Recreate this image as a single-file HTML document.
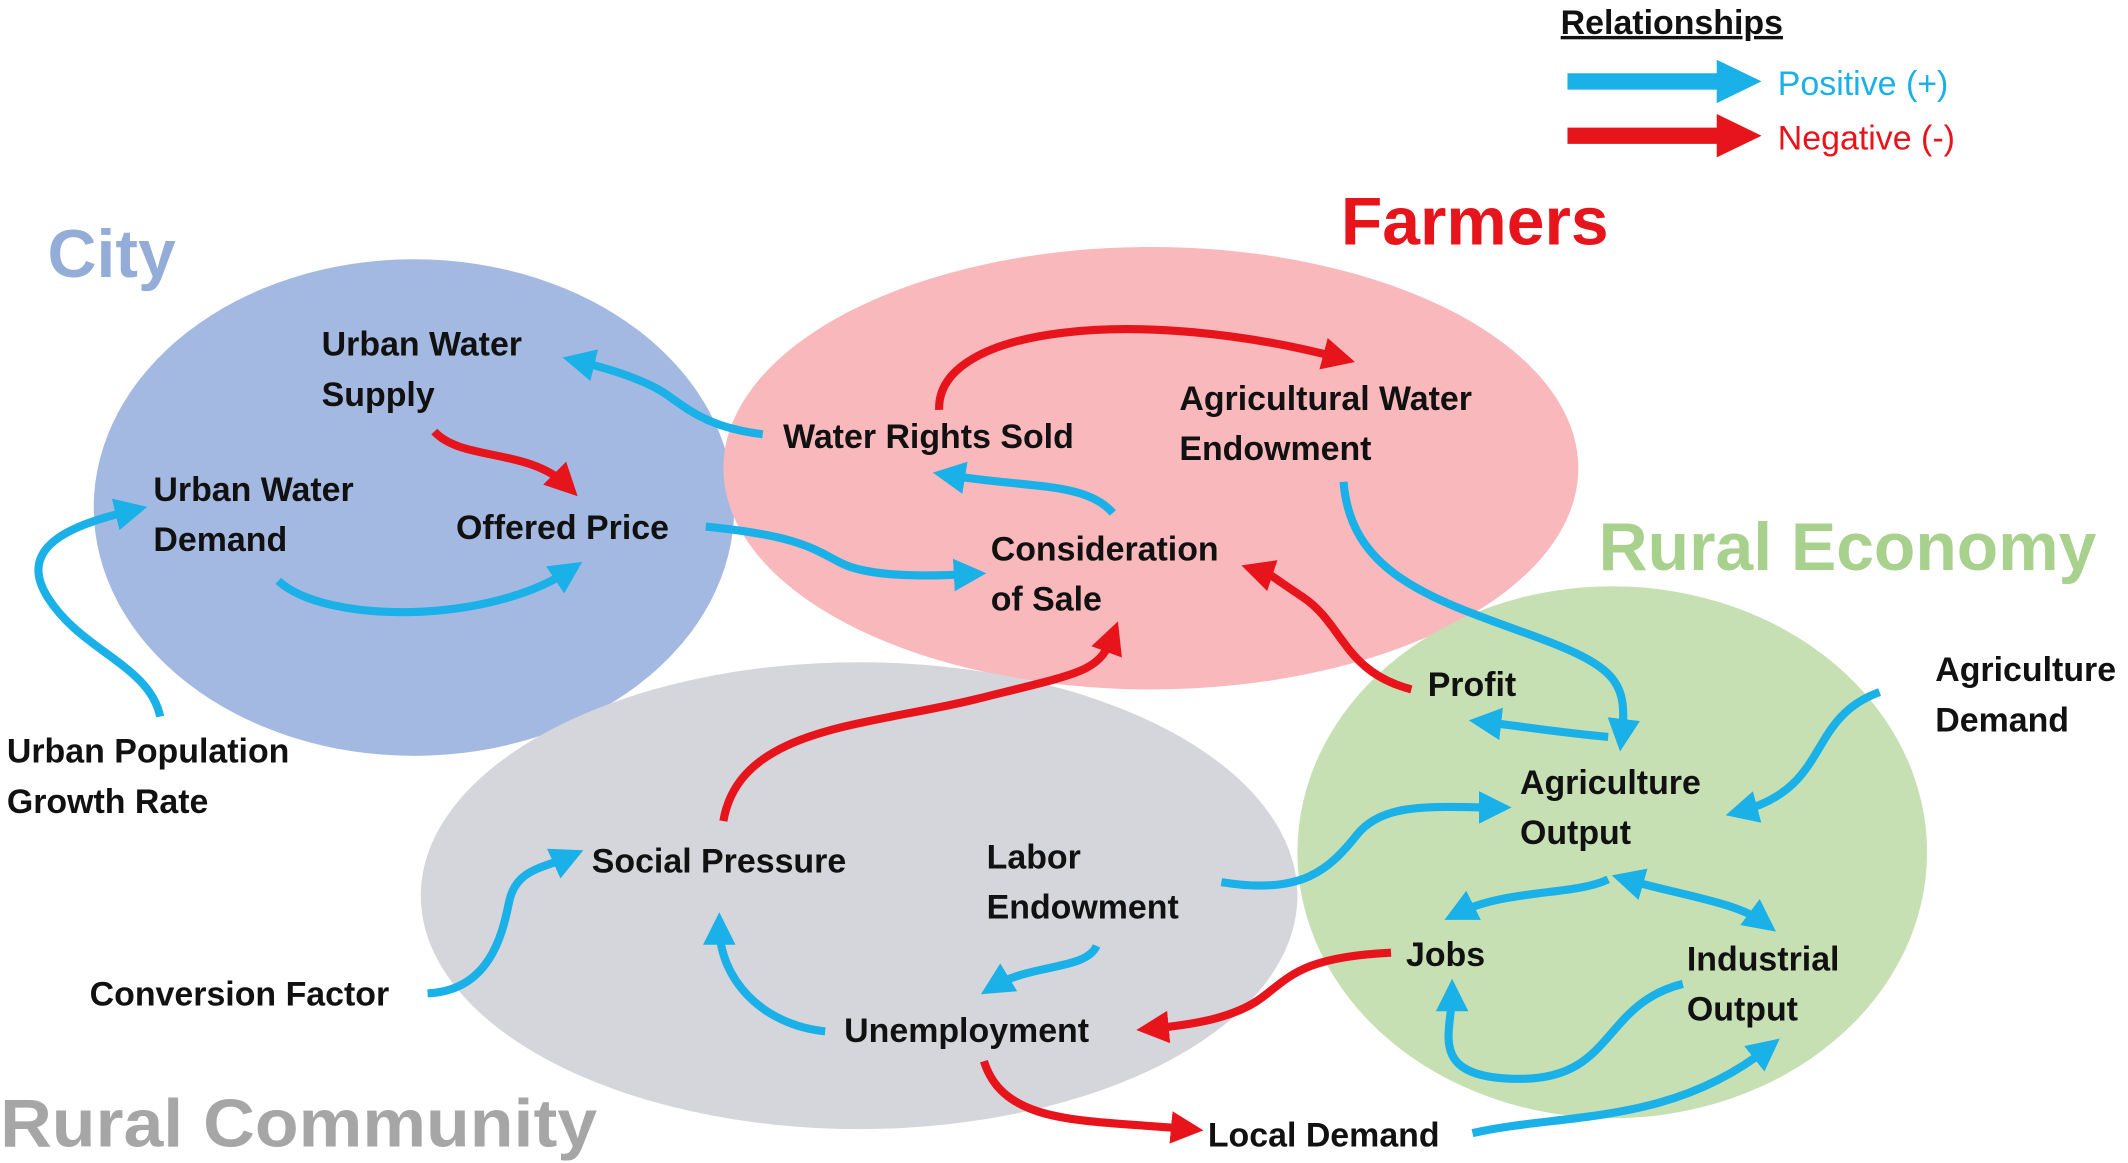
<!DOCTYPE html>
<html><head><meta charset="utf-8"><style>
html,body{margin:0;padding:0;background:#fff;}
svg{display:block;}
text{font-family:"Liberation Sans",sans-serif;}
.lbl{font-size:25px;font-weight:bold;fill:#111;}
.ttl{font-size:50px;font-weight:bold;}
.b{stroke:#1ab0e8;stroke-width:6;fill:none;marker-end:url(#hb);}
.r{stroke:#e8141c;stroke-width:6;fill:none;marker-end:url(#hr);}
</style></head><body>
<svg width="2128" height="1163" viewBox="0 0 1568 857">
<defs>
<marker id="hb" markerWidth="4" markerHeight="4" refX="2.2" refY="2" orient="auto" markerUnits="strokeWidth"><path d="M0,0 L4,2 L0,4 Z" fill="#1ab0e8"/></marker>
<marker id="hr" markerWidth="4" markerHeight="4" refX="2.2" refY="2" orient="auto" markerUnits="strokeWidth"><path d="M0,0 L4,2 L0,4 Z" fill="#e8141c"/></marker>
<marker id="hbs" markerWidth="4" markerHeight="4" refX="2.2" refY="2" orient="auto-start-reverse" markerUnits="strokeWidth"><path d="M0,0 L4,2 L0,4 Z" fill="#1ab0e8"/></marker>
</defs>
<ellipse cx="305" cy="374" rx="236" ry="183" fill="#a4b9e2"/>
<ellipse cx="848" cy="345" rx="315" ry="163" fill="#f9b8bc"/>
<ellipse cx="633" cy="660" rx="323" ry="172" fill="#d5d6db"/>
<ellipse cx="1188" cy="628" rx="232" ry="196" fill="#c6e0b4"/>

<text class="ttl" x="35" y="204" fill="#94acd8">City</text>
<text class="ttl" x="988" y="180" fill="#e8141c">Farmers</text>
<text class="ttl" x="1178" y="420" fill="#a9d18e">Rural Economy</text>
<text class="ttl" x="0" y="845" fill="#a6a6a6" textLength="440" lengthAdjust="spacingAndGlyphs">Rural Community</text>

<g>
<text x="1150" y="25" style="font-size:25px;font-weight:bold;text-decoration:underline" fill="#111">Relationships</text>
<path d="M1155,60 L1270,60" stroke="#1ab0e8" stroke-width="12"/><path d="M1265,44 L1298,60 L1265,76 Z" fill="#1ab0e8"/>
<path d="M1155,100 L1270,100" stroke="#e8141c" stroke-width="12"/><path d="M1265,84 L1298,100 L1265,116 Z" fill="#e8141c"/>
<text x="1310" y="70" style="font-size:25px" fill="#1ab0e8">Positive (+)</text>
<text x="1310" y="110" style="font-size:25px" fill="#e8141c">Negative (-)</text>
</g>

<g>
<path class="b" d="M562,320 C520,315 505,300 490,290 S450,272 425,266"/>
<path class="b" d="M820,378 C800,355 760,360 698,350"/>
<path class="b" d="M520,388 C590,395 600,405 620,415 S680,425 716,423"/>
<path class="b" d="M205,428 C240,460 360,460 420,420"/>
<path class="b" d="M118,528 C110,490 60,480 35,440 S60,385 98,376"/>
<path class="b" d="M990,355 C995,420 1050,440 1120,465 S1200,500 1195,543"/>
<path class="b" d="M1185,543 C1150,540 1120,535 1093,532"/>
<path class="b" d="M1385,510 C1330,530 1350,580 1282,598"/>
<path class="b" d="M900,650 C960,660 980,640 1000,615 S1060,595 1103,595"/>
<path class="b" d="M1185,648 C1160,660 1110,655 1074,673"/>
<path stroke="#1ab0e8" stroke-width="6" fill="none" marker-start="url(#hbs)" marker-end="url(#hb)" d="M1198,648 C1240,660 1280,665 1300,680"/>
<path class="b" d="M1240,725 C1180,740 1190,795 1120,795 S1070,760 1070,732"/>
<path class="b" d="M1085,835 C1150,820 1230,830 1303,772"/>
<path class="b" d="M808,697 C800,715 760,710 732,727"/>
<path class="b" d="M608,760 C560,755 530,720 530,683"/>
<path class="b" d="M315,732 C360,730 370,690 375,665 S400,640 420,631"/>
<path class="r" d="M320,318 C340,340 390,330 418,358"/>
<path class="r" d="M692,302 C690,240 840,225 988,264"/>
<path class="r" d="M1040,508 C990,495 990,460 960,440 S940,425 925,420"/>
<path class="r" d="M533,605 C545,535 640,535 720,515 S810,495 820,468"/>
<path class="r" d="M1025,702 C960,705 950,720 930,735 S880,755 848,758"/>
<path class="r" d="M725,782 C740,830 800,825 876,832"/>
</g>

<g>
<text class="lbl"><tspan x="237" y="262">Urban Water</tspan><tspan x="237" y="299">Supply</tspan></text>
<text class="lbl"><tspan x="113" y="369">Urban Water</tspan><tspan x="113" y="406">Demand</tspan></text>
<text class="lbl" x="336" y="397">Offered Price</text>
<text class="lbl" x="577" y="330">Water Rights Sold</text>
<text class="lbl"><tspan x="869" y="302">Agricultural Water</tspan><tspan x="869" y="339">Endowment</tspan></text>
<text class="lbl"><tspan x="730" y="413">Consideration</tspan><tspan x="730" y="450">of Sale</tspan></text>
<text class="lbl" x="1052" y="513">Profit</text>
<text class="lbl"><tspan x="1426" y="502">Agriculture</tspan><tspan x="1426" y="539">Demand</tspan></text>
<text class="lbl"><tspan x="1120" y="585">Agriculture</tspan><tspan x="1120" y="622">Output</tspan></text>
<text class="lbl"><tspan x="5" y="562">Urban Population</tspan><tspan x="5" y="599">Growth Rate</tspan></text>
<text class="lbl" x="436" y="643">Social Pressure</text>
<text class="lbl"><tspan x="727" y="640">Labor</tspan><tspan x="727" y="677">Endowment</tspan></text>
<text class="lbl" x="66" y="741">Conversion Factor</text>
<text class="lbl" x="1036" y="712">Jobs</text>
<text class="lbl"><tspan x="1243" y="715">Industrial</tspan><tspan x="1243" y="752">Output</tspan></text>
<text class="lbl" x="622" y="768">Unemployment</text>
<text class="lbl" x="890" y="845">Local Demand</text>
</g>
</svg>
</body></html>
